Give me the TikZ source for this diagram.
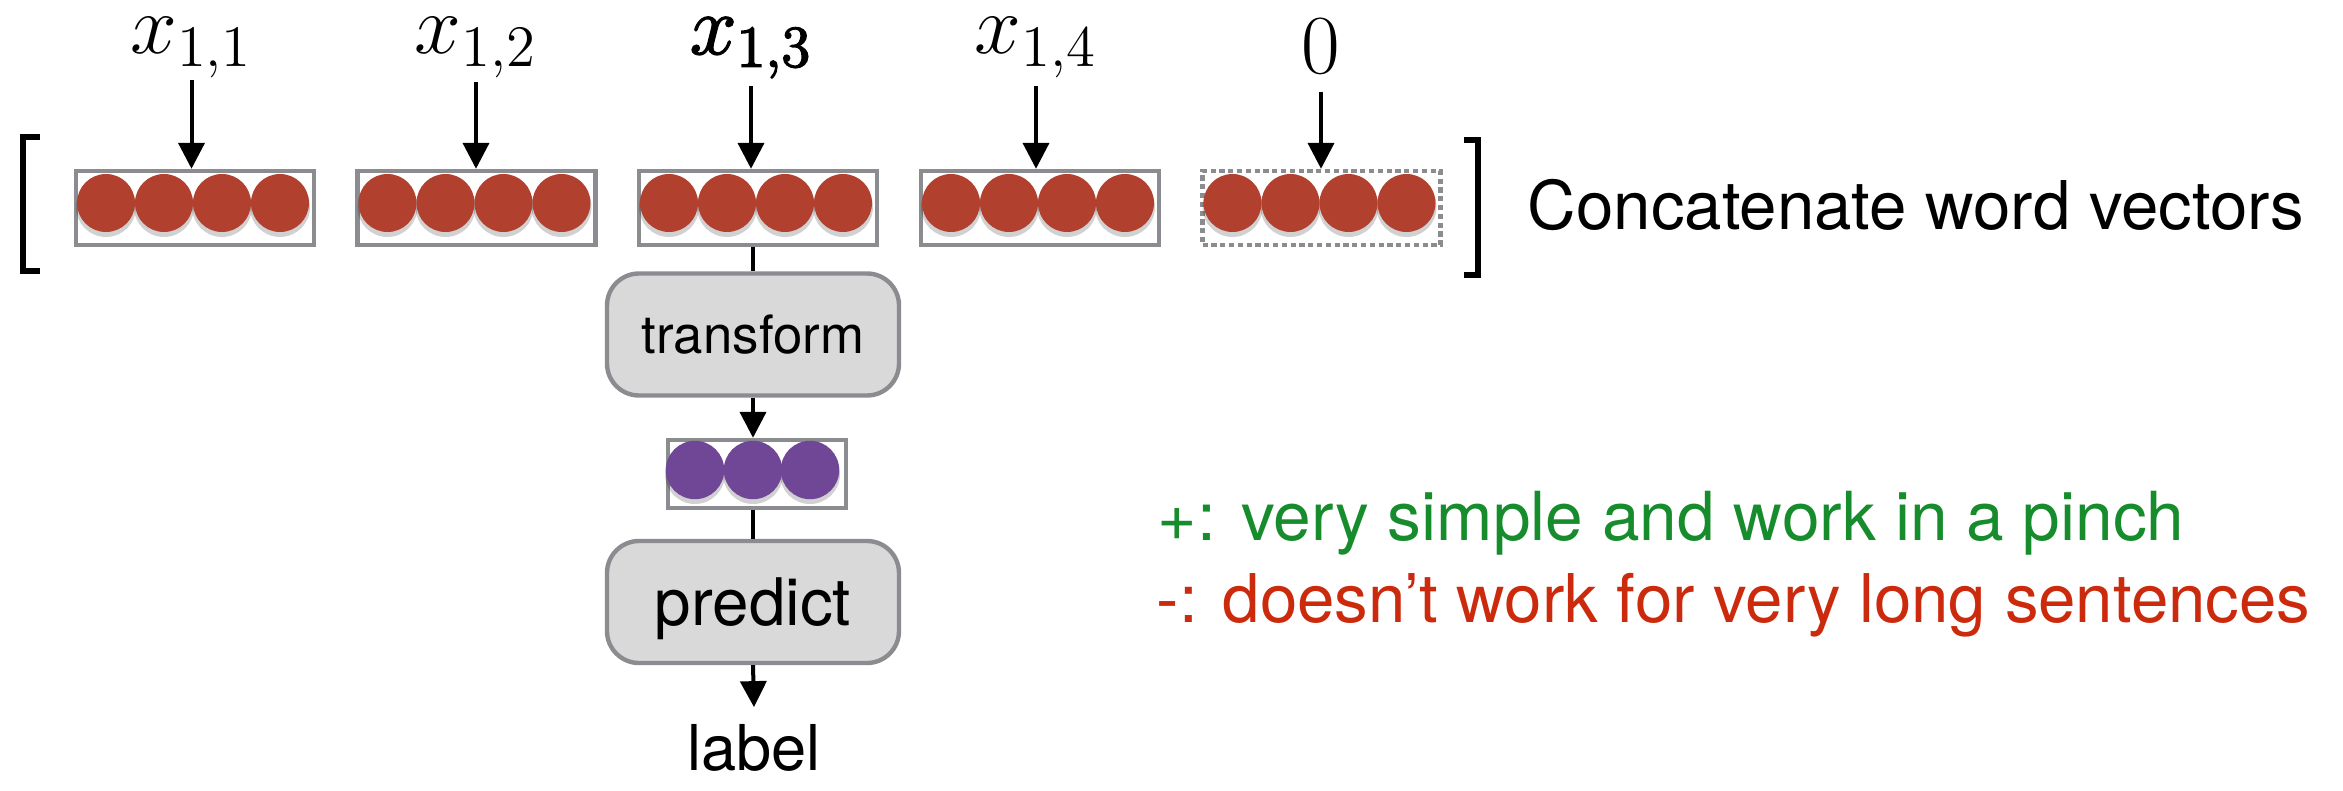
\RequirePackage{fix-cm}
\documentclass[tikz,border=0pt]{standalone}
\usepackage{fontspec}
\newfontfamily\hv{TeX Gyre Heros}
\usetikzlibrary{arrows.meta}
\definecolor{bord}{HTML}{8A8C8F}
\definecolor{wred}{RGB}{178,64,46}
\definecolor{wpur}{RGB}{112,70,150}
\definecolor{boxfill}{HTML}{D9D9D9}
\definecolor{cgreen}{RGB}{22,140,45}
\definecolor{cred}{RGB}{204,42,12}
\newcommand{\fakebold}[1]{\special{pdf:literal direct 2 Tr 0.4 w}#1\special{pdf:literal direct 0 Tr}}
\begin{document}
\begin{tikzpicture}[x=0.25pt,y=-0.25pt,
  vecbox/.style={draw=bord, line width=1.1pt, minimum width=59.5pt, minimum height=18.5pt, inner sep=0pt, fill=white},
  proc/.style={draw=bord, fill=boxfill, line width=1.1pt, rounded corners=8pt, minimum width=73pt, minimum height=30.5pt, inner sep=0pt, text depth=0pt},
  mlab/.style={inner sep=0pt, font=\fontsize{21pt}{24pt}\selectfont},
  txt/.style={inner sep=0pt},
  arr/.style={line width=1pt, -{Triangle[width=6.5pt,length=6.5pt]}},
  conn/.style={line width=1pt},
  shad/.style={fill=black, opacity=0.18},
  brk/.style={line width=1.3pt, miter limit=10}]
\useasboundingbox (0,0) rectangle (2343,791);

% word vector boxes
\node[vecbox] (b1) at (195,208) {};
\node[vecbox] (b2) at (476.5,208) {};
\node[vecbox] (b3) at (758,208) {};
\node[vecbox] (b4) at (1040,208) {};
\node[vecbox, dash pattern=on 1.3pt off 0.9pt] (b5) at (1321.5,208) {};
\foreach \cx in {193,474.5,756,1038,1319.5}{
  \foreach \d in {-87,-29,29,87}{\fill[shad] (\cx+\d,207) circle (7.5pt);}
  \foreach \d in {-87,-29,29,87}{\fill[wred] (\cx+\d,203) circle (7.25pt);}
}

% brackets
\draw[brk] (40,137) -- (23,137) -- (23,271) -- (40,271);
\draw[brk] (1464,140) -- (1478,140) -- (1478,275) -- (1464,275);

% labels
\node[mlab, anchor=base] (l1) at (191.5,54) {$x_{1,1}$};
\node[mlab, anchor=base] (l2) at (476,54) {$x_{1,2}$};
\node[mlab, anchor=base] (l3) at (751,54) {\fakebold{$x_{1,3}$}};
\node[mlab, anchor=base] (l4) at (1036,54) {$x_{1,4}$};
\node[mlab, anchor=base] (l5) at (1321,74) {$0$};

\draw[arr] (l1.south |- 0,80) -- (l1.south |- b1.north);
\draw[arr] (l2.south |- 0,82) -- (l2.south |- b2.north);
\draw[arr] (l3.south |- 0,86) -- (l3.south |- b3.north);
\draw[arr] (l4.south |- 0,86) -- (l4.south |- b4.north);
\draw[arr] (l5.south |- 0,92) -- (l5.south |- b5.north);

% pipeline
\node[proc, font=\hv\fontsize{13.2pt}{15pt}\selectfont] (tr) at (753,334.5) {transform};
\node[vecbox, minimum width=44.5pt, minimum height=17pt] (pv) at (757,474) {};
\foreach \x in {695,753,810}{\fill[shad] (\x,474) circle (7.5pt);}
\foreach \x in {695,753,810}{\fill[wpur] (\x,470) circle (7.3pt);}
\node[proc, font=\hv\fontsize{16.4pt}{19pt}\selectfont] (pr) at (753,602) {predict};
\node[txt, anchor=base, font=\hv\fontsize{15.8pt}{19pt}\selectfont] (lab) at (754,770) {label};

\draw[conn] (tr.north |- b3.south) -- (tr.north);
\draw[arr] (tr.south) -- (tr.south |- pv.north);
\draw[conn] (tr.south |- pv.south) -- (pr.north);
\draw[arr] (pr.south) -- ([yshift=4pt]lab.north);

% texts
\node[txt, anchor=base west, font=\hv\fontsize{16.8pt}{20pt}\selectfont] (cat) at (1527,230) {Concatenate word vectors};
\node[txt, anchor=base west, text=cgreen, font=\hv\fontsize{16.9pt}{20pt}\selectfont] (pro) at (1157,540) {+: very simple and work in a pinch};
\node[txt, anchor=base west, text=cred, font=\hv\fontsize{16.8pt}{20pt}\selectfont] (con) at (1156,622) {-: doesn’t work for very long sentences};
\end{tikzpicture}
\end{document}
